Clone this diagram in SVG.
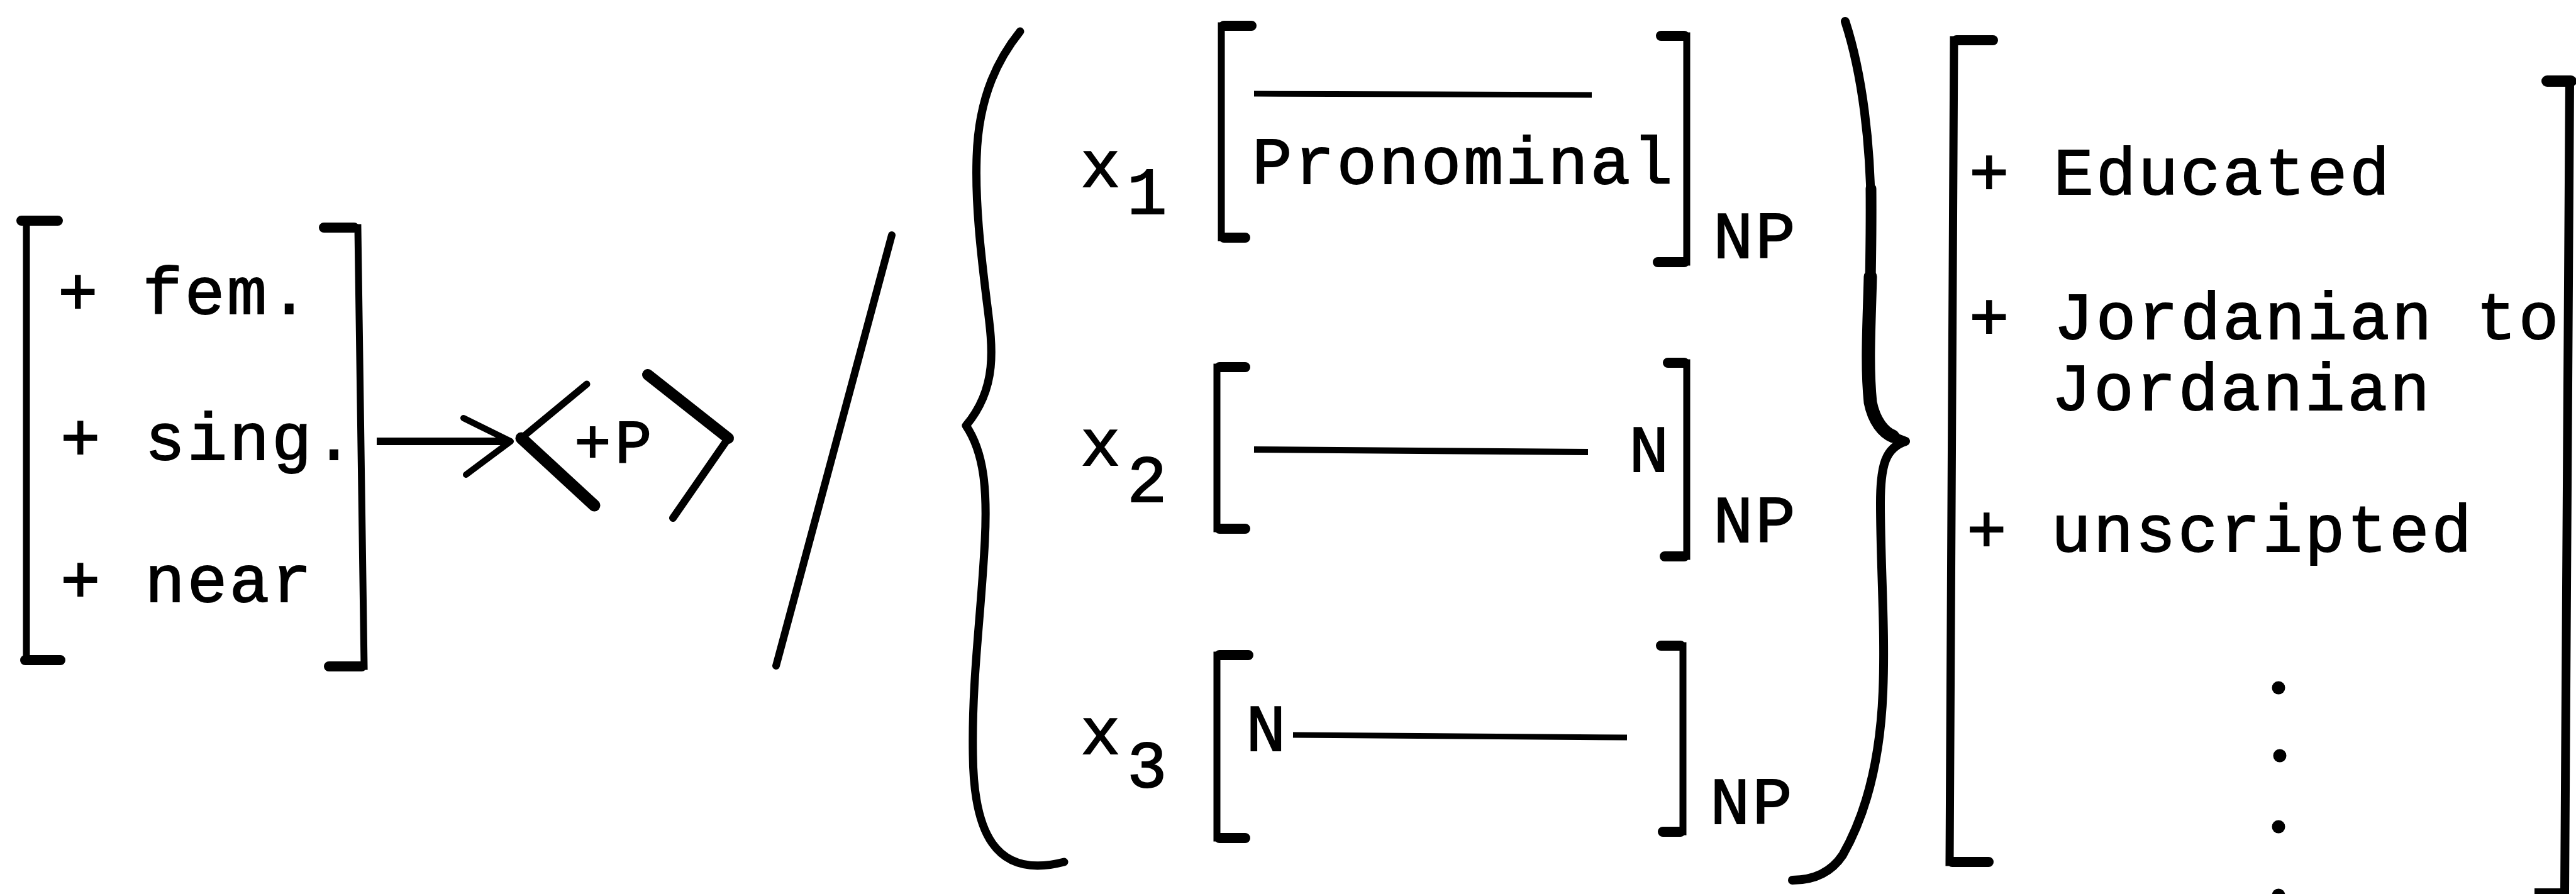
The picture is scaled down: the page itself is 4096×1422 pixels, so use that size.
<svg xmlns="http://www.w3.org/2000/svg" width="4096" height="1422" viewBox="0 0 4096 1422">
<style>
  .t { font-family: "Liberation Mono", "DejaVu Sans Mono", monospace; font-size: 106px; letter-spacing: 3.6px; fill: #000; stroke: #000; stroke-width: 1.8px; }
  .sm { font-size: 98px; letter-spacing: 6px; }
  .br { fill: none; stroke: #000; stroke-width: 11; stroke-linejoin: miter; }
  .sf { fill: none; stroke: #000; stroke-width: 16; stroke-linecap: round; }
  .bc { fill: none; stroke: #000; stroke-width: 13; stroke-linecap: round; stroke-linejoin: round; }
  .ln { fill: none; stroke: #000; stroke-width: 9; stroke-linecap: butt; }
  .ang { fill: none; stroke: #000; stroke-linecap: round; stroke-linejoin: round; }
</style>
<rect width="4096" height="1422" fill="#fff"/>

<g id="left-features">
  <path class="br" d="M96 351 L42 351 L42 1050 L100 1050"/>
  <path class="sf" d="M34 351 L92 351 M40 1050 L96 1050"/>
  <path class="br" d="M511 362 L569 362 L579 1060 L519 1060"/>
  <path class="sf" d="M515 362 L563 362 M523 1060 L575 1060"/>
  <text class="t" x="92" y="499">+ fem.</text>
  <text class="t" x="96" y="731">+ sing.</text>
  <text class="t" x="96" y="957">+ near</text>
</g>

<g id="connectors">
  <path class="ln" style="stroke-width:12" d="M599 702 L806 702"/>
  <path class="ang" style="stroke-width:10" d="M737 665 L812 702 L741 755"/>
</g>

<g id="angle-P">
  <path class="ang" style="stroke-width:11" d="M933 611 L829 697"/>
  <path class="ang" style="stroke-width:19" d="M829 697 L945 804"/>
  <path class="ang" style="stroke-width:18" d="M1030 596 L1158 697"/>
  <path class="ang" style="stroke-width:12" d="M1158 697 L1070 824"/>
  <text class="t sm" x="913" y="736">+P</text>
</g>

<g id="slash">
  <path class="bc" style="stroke-width:12" d="M1418 374 L1234 1059"/>
</g>

<g id="left-brace">
  <path class="bc" d="M1622 50 C1590 90 1556 150 1553 249 C1550 330 1562 420 1569 479 C1578 550 1588 615 1536 677 C1565 720 1570 780 1566 860 C1560 980 1545 1080 1547 1200 C1548 1320 1580 1400 1692 1371"/>
</g>

<g id="row1">
  <text class="t" x="1718" y="297">x</text>
  <text class="t" x="1792" y="340">1</text>
  <path class="br" d="M1994 41 L1942 41 L1942 378 L1983 378"/>
  <path class="sf" d="M1946 41 L1990 41 M1946 378 L1980 378"/>
  <path class="ln" d="M1994 149 L2531 151"/>
  <text class="t" x="1991" y="292">Pronominal</text>
  <path class="br" d="M2637 57 L2682 57 L2682 417 L2632 417"/>
  <path class="sf" d="M2641 57 L2678 57 M2636 417 L2678 417"/>
  <text class="t" x="2724" y="410">NP</text>
</g>

<g id="row2">
  <text class="t" x="1718" y="740">x</text>
  <text class="t" x="1792" y="798">2</text>
  <path class="br" d="M1983 584 L1935 584 L1935 841 L1983 841"/>
  <path class="sf" d="M1939 584 L1980 584 M1939 841 L1980 841"/>
  <path class="ln" style="stroke-width:10" d="M1994 715 L2525 719"/>
  <text class="t" x="2590" y="750">N</text>
  <path class="br" d="M2648 577 L2682 577 L2682 885 L2643 885"/>
  <path class="sf" d="M2652 577 L2678 577 M2647 885 L2678 885"/>
  <text class="t" x="2724" y="862">NP</text>
</g>

<g id="row3">
  <text class="t" x="1718" y="1199">x</text>
  <text class="t" x="1792" y="1252">3</text>
  <path class="br" d="M1989 1042 L1935 1042 L1935 1333 L1983 1333"/>
  <path class="sf" d="M1939 1042 L1985 1042 M1939 1333 L1980 1333"/>
  <text class="t" x="1981" y="1194">N</text>
  <path class="ln" d="M2056 1169 L2587 1173"/>
  <path class="br" d="M2637 1027 L2676 1027 L2676 1323 L2640 1323"/>
  <path class="sf" d="M2641 1027 L2672 1027 M2644 1323 L2672 1323"/>
  <text class="t" x="2719" y="1310">NP</text>
</g>

<g id="right-brace">
  <path class="bc" style="stroke-width:14" d="M2934 34 C2962 120 2974 230 2975 335 C2976 450 2970 560 2972 620 C2976 670 3000 692 3030 702 C2998 712 2990 740 2990 800 C2990 900 2998 1000 2994 1100 C2990 1200 2970 1290 2930 1360 C2910 1390 2880 1400 2850 1400"/>
  <path class="bc" style="stroke-width:17" d="M2975 300 C2976 420 2972 520 2971 580"/>
  <path class="bc" style="stroke-width:21" d="M2974 440 C2972 520 2968 580 2974 640 C2980 670 2995 688 3010 694"/>
</g>

<g id="context-features">
  <path class="br" style="stroke-width:13" d="M3173 64 L3107 64 L3100 1371 L3166 1371"/>
  <path class="sf" d="M3111 64 L3169 64 M3104 1371 L3162 1371"/>
  <path class="br" style="stroke-width:14" d="M4046 129 L4086 129 L4078 1420 L4030 1420"/>
  <path class="sf" style="stroke-width:18" d="M4050 129 L4088 129"/>
  <text class="t" x="3131" y="309">+ Educated</text>
  <text class="t" x="3131" y="539">+ Jordanian to</text>
  <text class="t" x="3262" y="652">Jordanian</text>
  <text class="t" x="3127" y="877">+ unscripted</text>
  <circle cx="3623" cy="1094" r="10.5"/>
  <circle cx="3625" cy="1202" r="10.5"/>
  <circle cx="3623" cy="1315" r="10.5"/>
  <circle cx="3623" cy="1424" r="10.5"/>
</g>
</svg>
